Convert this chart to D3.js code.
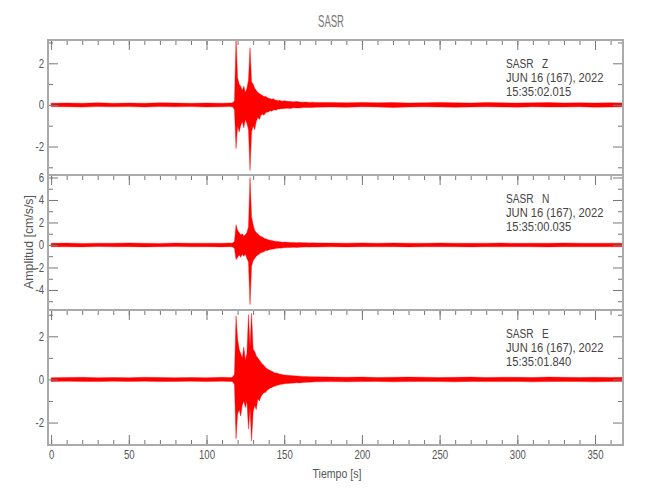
<!DOCTYPE html>
<html>
<head>
    <meta charset="utf-8">
    <title>SASR</title>
    <script src="https://d3js.org/d3.v7.min.js"></script>
    <style>
        body { margin: 0; background: #fff; }
        text { font-family: "Liberation Sans", Arial, sans-serif; }
    </style>
</head>
<body>
<div id="chart"></div>
<script>
// time samples [s] - envelope (upper / lower per sample)
const TIME = [0,10,20,30,40,50,60,70,80,90,100,110,115,
    116,117,118,119,120,121,122,123,124,125,126,127,128,129,130,131,132,133,134,135,136,137,138,139,140,141,142,143,144,145,146,147,148,149,150,
    152,154,156,158,160,162,164,166,168,170,
    180,190,200,210,220,230,240,250,260,270,280,290,300,310,320,330,340,350,360,368];

const Z_HI = [0.08,0.09,0.08,0.1,0.08,0.09,0.08,0.1,0.09,0.08,0.09,0.08,0.09,
    0.09,0.12,0.2,3.2,1.3,1.0,0.9,0.7,0.9,0.6,0.8,1.2,2.75,1.1,1.0,0.8,0.7,0.6,0.55,0.5,0.45,0.4,0.42,0.35,0.32,0.3,0.27,0.3,0.24,0.22,0.2,0.22,0.19,0.18,0.2,
    0.17,0.16,0.15,0.16,0.14,0.13,0.14,0.12,0.13,0.12,
    0.11,0.1,0.12,0.1,0.11,0.09,0.1,0.12,0.1,0.09,0.11,0.1,0.09,0.1,0.11,0.09,0.1,0.09,0.1,0.09];
const Z_LO = [-0.08,-0.09,-0.1,-0.08,-0.09,-0.08,-0.1,-0.08,-0.09,-0.08,-0.1,-0.09,-0.08,
    -0.09,-0.1,-0.25,-2.1,-1.0,-1.3,-1.0,-0.8,-1.1,-0.7,-0.9,-1.2,-3.15,-1.3,-1.0,-1.2,-0.8,-0.6,-0.7,-0.5,-0.45,-0.5,-0.38,-0.35,-0.33,-0.28,-0.3,-0.25,-0.24,-0.24,-0.2,-0.2,-0.18,-0.19,-0.17,
    -0.16,-0.17,-0.14,-0.15,-0.15,-0.13,-0.12,-0.13,-0.12,-0.11,
    -0.1,-0.11,-0.09,-0.1,-0.12,-0.1,-0.09,-0.1,-0.11,-0.1,-0.09,-0.1,-0.11,-0.09,-0.1,-0.1,-0.09,-0.11,-0.1,-0.09];

const N_HI = [0.15,0.17,0.14,0.16,0.15,0.18,0.15,0.14,0.17,0.15,0.16,0.15,0.17,
    0.16,0.2,0.3,1.8,1.3,1.1,0.9,1.0,0.8,0.9,1.1,1.6,6.0,2.5,1.8,1.3,1.1,1.0,0.85,0.75,0.7,0.6,0.55,0.5,0.45,0.42,0.4,0.36,0.34,0.32,0.3,0.28,0.27,0.25,0.26,
    0.24,0.22,0.23,0.2,0.21,0.19,0.2,0.18,0.19,0.18,
    0.17,0.16,0.18,0.15,0.17,0.16,0.15,0.17,0.16,0.15,0.16,0.17,0.15,0.16,0.15,0.17,0.16,0.15,0.16,0.15];
const N_LO = [-0.15,-0.16,-0.17,-0.14,-0.16,-0.15,-0.17,-0.15,-0.14,-0.16,-0.15,-0.17,-0.15,
    -0.16,-0.2,-0.3,-1.3,-1.1,-0.9,-1.1,-0.8,-1.0,-0.8,-1.2,-1.5,-5.3,-1.9,-1.4,-1.2,-1.0,-0.9,-0.8,-0.7,-0.65,-0.6,-0.5,-0.5,-0.45,-0.4,-0.38,-0.35,-0.33,-0.3,-0.3,-0.27,-0.28,-0.25,-0.24,
    -0.23,-0.22,-0.21,-0.22,-0.2,-0.19,-0.18,-0.19,-0.17,-0.18,
    -0.16,-0.17,-0.15,-0.16,-0.15,-0.17,-0.16,-0.15,-0.16,-0.17,-0.15,-0.16,-0.15,-0.16,-0.17,-0.15,-0.16,-0.15,-0.16,-0.15];

const E_HI = [0.08,0.09,0.1,0.08,0.09,0.08,0.1,0.09,0.08,0.09,0.08,0.1,0.09,
    0.09,0.12,0.25,2.95,1.9,1.4,1.2,1.0,1.5,0.9,1.2,3.0,1.5,3.07,1.4,1.3,1.1,1.0,0.9,0.8,0.7,0.65,0.55,0.5,0.45,0.42,0.38,0.35,0.3,0.3,0.27,0.25,0.24,0.22,0.21,
    0.2,0.18,0.17,0.16,0.15,0.14,0.14,0.13,0.12,0.12,
    0.11,0.1,0.11,0.09,0.1,0.11,0.1,0.09,0.1,0.11,0.09,0.1,0.1,0.09,0.11,0.1,0.09,0.1,0.09,0.1];
const E_LO = [-0.09,-0.08,-0.09,-0.1,-0.08,-0.09,-0.08,-0.1,-0.09,-0.08,-0.1,-0.08,-0.09,
    -0.09,-0.12,-0.25,-2.75,-1.6,-1.4,-1.7,-1.2,-1.0,-1.3,-1.0,-2.3,-1.3,-2.85,-1.5,-1.2,-1.4,-0.9,-1.0,-0.8,-0.7,-0.6,-0.6,-0.5,-0.45,-0.4,-0.38,-0.33,-0.32,-0.28,-0.26,-0.25,-0.22,-0.22,-0.2,
    -0.19,-0.18,-0.17,-0.15,-0.16,-0.14,-0.13,-0.13,-0.12,-0.11,
    -0.1,-0.11,-0.1,-0.09,-0.11,-0.1,-0.09,-0.1,-0.11,-0.09,-0.1,-0.1,-0.09,-0.11,-0.1,-0.09,-0.1,-0.11,-0.09,-0.1];

const COMPONENTS = ["Z", "N", "E"];
const START_TIMES = ["15:35:02.015", "15:35:00.035", "15:35:01.840"];
const DATE_LABEL = "JUN 16 (167), 2022";
const STATION = "SASR";
const Y_DOMAINS = [[-3.37, 3.12], [-5.78, 6.22], [-3.04, 3.22]];
const Y_MAJOR = [[-2, 0, 2], [-4, -2, 0, 2, 4, 6], [-2, 0, 2]];
const Y_MINOR = [[-3, -1, 1, 3], [-5, -3, -1, 1, 3, 5], [-3, -1, 1, 3]];
const X_MAJOR = [0, 50, 100, 150, 200, 250, 300, 350];
const X_MINOR = d3.range(0, 370, 10);

const series = [
    TIME.map((t, i) => ({ t, hi: Z_HI[i], lo: Z_LO[i] })),
    TIME.map((t, i) => ({ t, hi: N_HI[i], lo: N_LO[i] })),
    TIME.map((t, i) => ({ t, hi: E_HI[i], lo: E_LO[i] }))
];

const width = 650, height = 500;
const left = 48, right = 623;
const panelTops = [40, 175, 310];
const panelH = 135;

const svg = d3.select("#chart").append("svg")
    .attr("width", width)
    .attr("height", height);

const x = d3.scaleLinear().domain([-2, 368]).range([left, right]);
const fmt = d => (d < 0 ? "-" : "") + Math.abs(d);

// the original uses a narrow plotter font, so squeeze text horizontally
function label(px, py, txt, size, k, anchor, color) {
    return svg.append("text")
        .attr("transform", `translate(${px},${py}) scale(${k},1)`)
        .attr("text-anchor", anchor)
        .attr("font-size", size)
        .attr("fill", color)
        .style("white-space", "pre")
        .text(txt);
}

label(331, 27, STATION, 17, 0.56, "middle", "#777");

function styleAxis(g) {
    g.select(".domain").remove();
    g.selectAll(".tick line").attr("stroke", "#777").attr("stroke-width", 1);
    g.selectAll(".tick text").attr("fill", "#555").attr("font-size", 12)
        .attr("transform", "scale(0.8,1)");
}

series.forEach((data, p) => {
    const top = panelTops[p];
    const bottom = top + panelH;
    const y = d3.scaleLinear().domain(Y_DOMAINS[p]).range([bottom, top]);

    const g = svg.append("g");

    g.append("clipPath").attr("id", "clip" + p)
        .append("rect")
        .attr("x", left).attr("y", top)
        .attr("width", right - left).attr("height", panelH);

    // trace
    const area = d3.area()
        .x(d => x(d.t))
        .y0(d => y(d.lo))
        .y1(d => y(d.hi));

    g.append("path")
        .datum(data)
        .attr("clip-path", `url(#clip${p})`)
        .attr("d", area)
        .attr("fill", "#ff0000")
        .attr("stroke", "#ff0000")
        .attr("stroke-width", 0.4);

    // left ticks
    g.append("g").attr("transform", `translate(${left},0)`)
        .call(d3.axisLeft(y).tickValues(Y_MINOR[p]).tickSize(-5).tickFormat("").tickSizeOuter(0))
        .call(styleAxis);
    g.append("g").attr("transform", `translate(${left},0)`)
        .call(d3.axisLeft(y).tickValues(Y_MAJOR[p]).tickSize(-10).tickPadding(5).tickFormat(fmt).tickSizeOuter(0))
        .call(styleAxis);
    // right ticks
    g.append("g").attr("transform", `translate(${right},0)`)
        .call(d3.axisRight(y).tickValues(Y_MINOR[p]).tickSize(-5).tickFormat("").tickSizeOuter(0))
        .call(styleAxis);
    g.append("g").attr("transform", `translate(${right},0)`)
        .call(d3.axisRight(y).tickValues(Y_MAJOR[p]).tickSize(-10).tickFormat("").tickSizeOuter(0))
        .call(styleAxis);

    // top ticks
    g.append("g").attr("transform", `translate(0,${top})`)
        .call(d3.axisTop(x).tickValues(X_MINOR).tickSize(-5).tickFormat("").tickSizeOuter(0))
        .call(styleAxis);
    g.append("g").attr("transform", `translate(0,${top})`)
        .call(d3.axisTop(x).tickValues(X_MAJOR).tickSize(-10).tickFormat("").tickSizeOuter(0))
        .call(styleAxis);

    if (p === series.length - 1) {
        g.append("g").attr("transform", `translate(0,${bottom})`)
            .call(d3.axisBottom(x).tickValues(X_MINOR).tickSize(-5).tickFormat("").tickSizeOuter(0))
            .call(styleAxis);
        g.append("g").attr("transform", `translate(0,${bottom})`)
            .call(d3.axisBottom(x).tickValues(X_MAJOR).tickSize(-10).tickPadding(5).tickSizeOuter(0))
            .call(styleAxis);
    }

    // frame
    g.append("rect")
        .attr("x", left).attr("y", top)
        .attr("width", right - left).attr("height", panelH)
        .attr("fill", "none")
        .attr("stroke", "#aaa")
        .attr("stroke-width", 2);

    // station / date / start time
    const info = [`${STATION}   ${COMPONENTS[p]}`, DATE_LABEL, START_TIMES[p]];
    info.forEach((txt, i) => label(506, top + 28 + i * 14, txt, 13, i === 0 ? 0.78 : 0.86, "start", "#444"));
});

svg.append("text")
    .attr("transform", "translate(33,242) rotate(-90) scale(0.95,1)")
    .attr("text-anchor", "middle")
    .attr("font-size", 13)
    .attr("fill", "#555")
    .text("Amplitud [cm/s/s]");

label(337, 478, "Tiempo [s]", 12, 0.88, "middle", "#555");
</script>
</body>
</html>
